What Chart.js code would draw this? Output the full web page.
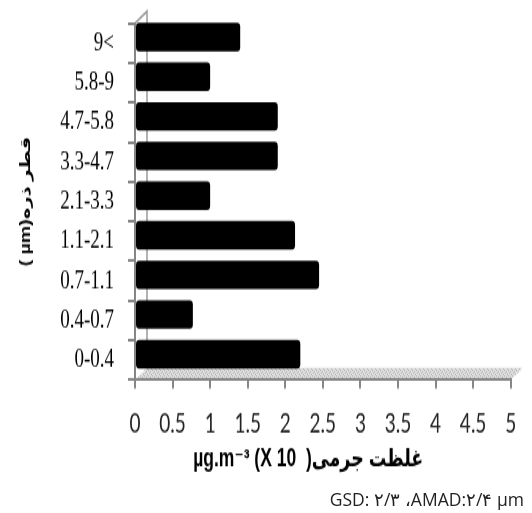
<!DOCTYPE html>
<html><head><meta charset="utf-8">
<script src="https://cdn.jsdelivr.net/npm/chart.js@4"></script>
<style>
html,body{margin:0;padding:0;background:#fff;overflow:hidden;width:532px;height:513px;}
#wrap{position:absolute;left:0;top:0;width:532px;height:366px;transform:scaleY(1.4);transform-origin:0 0;}
#c{display:block;}
#foot{position:absolute;right:8px;top:488px;font:17.5px "Open Sans",sans-serif;color:#222;white-space:nowrap;direction:ltr;unicode-bidi:bidi-override;line-height:22px;}
</style></head><body>
<div id="wrap"><canvas id="c" width="532" height="366"></canvas></div>
<div id="foot">GSD: ۲/۳ ،AMAD:۲/۴ µm</div>
<script>
const sizeClasses = ['0-0.4','0.4-0.7','0.7-1.1','1.1-2.1','2.1-3.3','3.3-4.7','4.7-5.8','5.8-9','9<'];
const massConcentration = [2.2, 0.77, 2.45, 2.13, 1.0, 1.9, 1.9, 1.0, 1.4];
const xTickLabels = ['0','0.5','1','1.5','2','2.5','3','3.5','4','4.5','5'];
const yTitle = '( µm)قطر ذره';
const xTitle = 'µg.m⁻³ (X 10  )غلظت جرمی      ';

const S = 1.4;            // vertical stretch of the picture
const H = 366;
const AX = '#868686';

// floor texture
const pc = document.createElement('canvas');
pc.width = 4; pc.height = 4;
const pctx = pc.getContext('2d');
pctx.fillStyle = '#dedede'; pctx.fillRect(0,0,4,4);
pctx.fillStyle = '#b4b4b4';
pctx.fillRect(0,0,1,1); pctx.fillRect(2,1,1,1); pctx.fillRect(1,2,1,1); pctx.fillRect(3,3,1,1);

const deco = {
  id: 'deco',
  beforeDraw(chart) {
    const {ctx, chartArea: a, scales: {x}} = chart;
    const x0 = x.getPixelForValue(0), x5 = x.getPixelForValue(5);
    const dx = 12, dy = 12 / S;
    ctx.save();
    ctx.fillStyle = ctx.createPattern(pc, 'repeat');
    ctx.beginPath();
    ctx.moveTo(x0, a.bottom);
    ctx.lineTo(x0 + dx, a.bottom - dy);
    ctx.lineTo(x5 + dx, a.bottom - dy);
    ctx.lineTo(x5, a.bottom);
    ctx.closePath();
    ctx.fill();
    ctx.strokeStyle = '#9a9a9a';
    ctx.lineWidth = 1.5;
    ctx.beginPath();
    ctx.moveTo(x0, a.top);
    ctx.lineTo(x0 + dx, a.top - dy);
    ctx.lineTo(x0 + dx, a.bottom - dy);
    ctx.stroke();
    ctx.restore();
  },
  beforeDatasetsDraw(chart) { chart.ctx.save(); chart.ctx.translate(0, -6 / S); },
  afterDatasetsDraw(chart) { chart.ctx.restore(); }
};

new Chart(document.getElementById('c'), {
  type: 'bar',
  data: {
    labels: sizeClasses,
    datasets: [{
      data: massConcentration,
      backgroundColor: '#000',
      borderWidth: 0,
      borderRadius: 3,
      borderSkipped: false,
      barPercentage: 0.72,
      categoryPercentage: 1
    }]
  },
  options: {
    indexAxis: 'y',
    responsive: false,
    animation: false,
    devicePixelRatio: 1,
    layout: {padding: {top: 16.6, right: 21.3, left: 0, bottom: 0}},
    plugins: {legend: {display: false}, tooltip: {enabled: false}},
    scales: {
      x: {
        type: 'linear', min: 0, max: 5,
        ticks: {
          stepSize: 0.5, autoSkip: false, maxRotation: 0,
          callback: (v, i) => xTickLabels[i],
          color: '#222', font: {family: "Lato, 'Liberation Sans'", size: 19}, padding: 13.7
        },
        grid: {drawOnChartArea: false, drawTicks: true, tickLength: 6, color: AX, lineWidth: 2},
        border: {color: AX, width: 2},
        title: {
          display: true, text: xTitle, color: '#000',
          font: {family: "'Liberation Sans', 'DejaVu Sans'", size: 17.5, weight: 'bold'},
          padding: {top: 0, bottom: 27}
        },
        afterFit(s) { s.height = H - 271.4; s.paddingLeft = 0; s.paddingRight = 0; }
      },
      y: {
        reverse: true,
        ticks: {color: '#000', font: {family: "'Liberation Serif'", size: 19}, padding: 14, autoSkip: false},
        grid: {drawOnChartArea: false, drawTicks: true, tickLength: 7, color: AX, lineWidth: 2},
        border: {color: AX, width: 2},
        title: {
          display: true, text: yTitle, color: '#000',
          font: {family: "'Liberation Sans', 'DejaVu Sans'", size: 14, weight: 'bold'},
          padding: {top: 17.8, bottom: 0}
        },
        afterFit(s) { s.width = 135; s.paddingTop = 0; s.paddingBottom = 0; }
      }
    }
  },
  plugins: [deco]
});
</script>
</body></html>
